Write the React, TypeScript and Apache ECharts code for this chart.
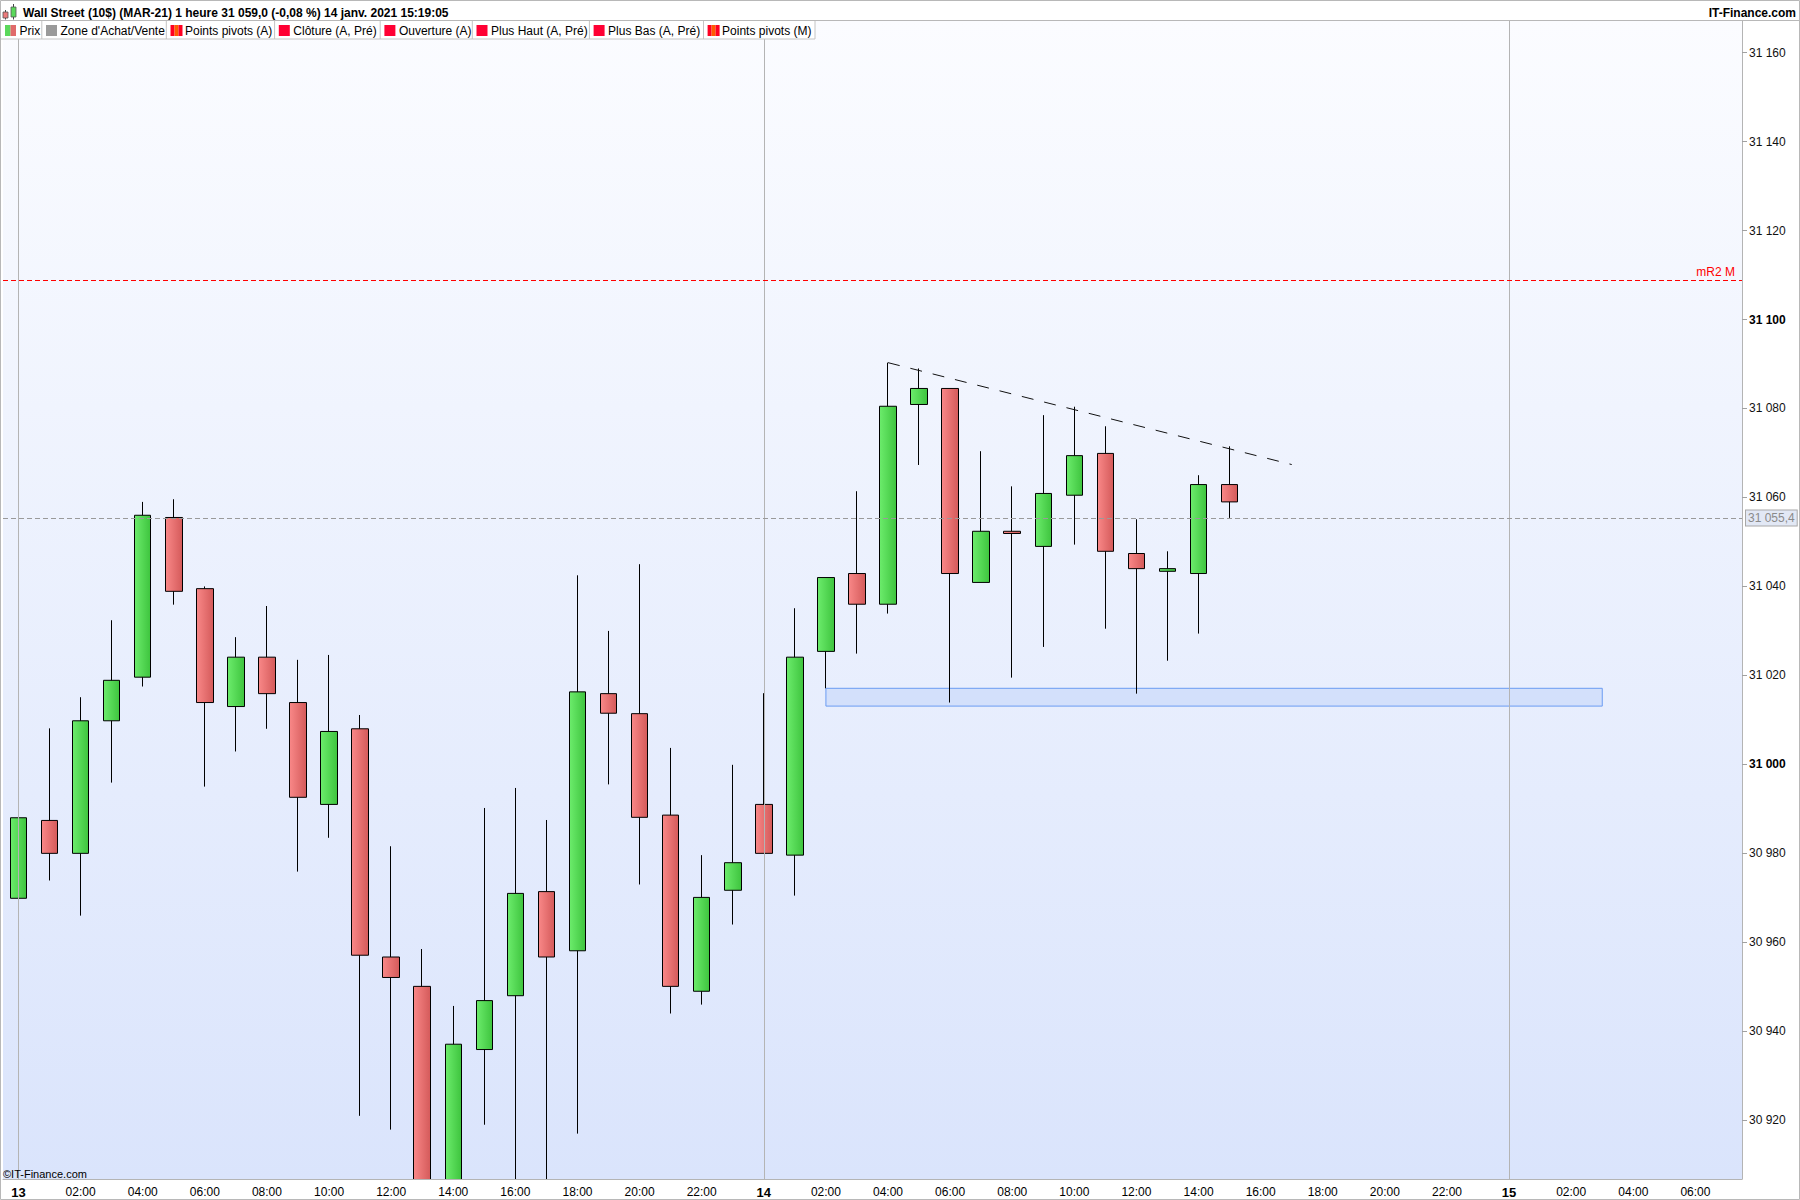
import React, { useEffect, useRef } from "react";
import * as echarts from "echarts";

// ---------- DATA ----------
const hourLabels = [
  "13", "01:00", "02:00", "03:00", "04:00", "05:00", "06:00", "07:00", "08:00", "09:00", "10:00", "11:00",
  "12:00", "13:00", "14:00", "15:00", "16:00", "17:00", "18:00", "19:00", "20:00", "21:00", "22:00", "23:00",
  "14", "01:00", "02:00", "03:00", "04:00", "05:00", "06:00", "07:00", "08:00", "09:00", "10:00", "11:00",
  "12:00", "13:00", "14:00", "15:00", "16:00", "17:00", "18:00", "19:00", "20:00", "21:00", "22:00", "23:00",
  "15", "01:00", "02:00", "03:00", "04:00", "05:00", "06:00", "07:00",
];

const opens = [
  30969.9, 30987.4, 30980.0, 31009.8, 31019.6, 31055.5, 31039.5, 31013.0, 31024.1, 31013.9,
  30991.0, 31008.0, 30956.7, 30950.1, 30898.0, 30935.9, 30948.0, 30971.4, 30958.1, 31015.9,
  31011.4, 30988.6, 30949.0, 30971.7, 30991.0, 30979.6, 31025.4, 31042.9, 31036.0, 31080.9,
  31084.5, 31040.9, 31052.4, 31049.0, 31060.5, 31069.9, 31047.4, 31043.4, 31042.9, 31062.9,
];
const closes = [
  30988.0, 30980.0, 31009.8, 31018.9, 31056.0, 31038.9, 31013.9, 31024.1, 31015.9, 30992.6,
  31007.4, 30957.1, 30952.1, 30895.0, 30937.1, 30946.9, 30971.0, 30956.7, 31016.3, 31011.5,
  30988.1, 30950.1, 30970.1, 30977.9, 30980.0, 31024.1, 31042.0, 31036.0, 31080.5, 31084.5,
  31042.9, 31052.4, 31051.9, 31060.9, 31069.4, 31047.9, 31044.0, 31044.0, 31062.9, 31059.0,
];
const lows = [
  30946.5, 30973.9, 30966.0, 30995.9, 31017.5, 31035.9, 30995.0, 31002.9, 31008.0, 30975.9,
  30983.5, 30921.0, 30917.9, 30888.0, 30890.0, 30919.0, 30903.0, 30905.0, 30917.0, 30995.5,
  30973.0, 30944.0, 30946.0, 30964.0, 30980.0, 30970.5, 31017.1, 31024.9, 31033.9, 31067.3,
  31013.9, 31040.9, 31019.5, 31026.4, 31049.4, 31030.5, 31015.9, 31023.3, 31029.4, 31055.4,
];
const highs = [
  30988.0, 31008.1, 31015.1, 31032.4, 31059.0, 31059.6, 31040.0, 31028.6, 31035.6, 31023.5,
  31024.6, 31011.1, 30981.6, 30958.5, 30945.7, 30990.2, 30994.7, 30987.5, 31042.5, 31030.0,
  31045.0, 31003.7, 30979.6, 30999.9, 31016.0, 31035.1, 31042.0, 31061.4, 31090.3, 31089.0,
  31084.5, 31070.4, 31062.5, 31078.5, 31080.4, 31076.0, 31055.1, 31047.9, 31065.0, 31071.5,
];

const yTicks = [30920, 30940, 30960, 30980, 31000, 31020, 31040, 31060, 31080, 31100, 31120, 31140, 31160];
const yMin = 30906.8;
const yMax = 31167.1;

const dayBoundaries = [0, 24, 48];
const lastPrice = 31055.4;
const lastPriceLabel = "31 055,4";
const pivotLevel = 31108.8;
const pivotLabel = "mR2 M";
const trendStart = [28, 31090.3];
const trendEnd = [41, 31067.4];
const zoneX = [26, 51];
const zoneY = [31017.1, 31013.1];

const titleText = "Wall Street (10$) (MAR-21) 1 heure 31 059,0 (-0,08 %) 14 janv. 2021 15:19:05";
const brandText = "IT-Finance.com";
const watermarkText = "\u00A9IT-Finance.com";
const legendNames = [
  "Prix", "Zone d'Achat/Vente", "Points pivots (A)", "Clôture (A, Pré)",
  "Ouverture (A)", "Plus Haut (A, Pré)", "Plus Bas (A, Pré)", "Points pivots (M)",
];
const legendIcons = ["prix", "zone", "pivot", "red", "red", "red", "red", "pivot"];

// ---------- LAYOUT (styling only) ----------
const legendIconX = [5, 46, 170.5, 278.8, 384.4, 476.5, 593.6, 707.6];
const legendSepX = [41.8, 166.3, 274.6, 380.2, 472.3, 589.4, 703.5];
const legendEndX = 814.5;
const FONT = '"Liberation Sans", Arial, sans-serif';

function fmtPrice(v: number) {
  const th = Math.floor(v / 1000);
  const rest = Math.round(v - th * 1000);
  return `${th} ${String(rest).padStart(3, "0")}`;
}

function legendIcon(kind: string, x: number): any[] {
  const y = 25;
  if (kind === "prix") {
    return [
      { type: "rect", z: 101, shape: { x, y, width: 5.5, height: 11 }, style: { fill: "#5bd85b" } },
      { type: "rect", z: 101, shape: { x: x + 5.5, y, width: 5.5, height: 11 }, style: { fill: "#e06a6a" } },
    ];
  }
  if (kind === "zone") {
    return [{ type: "rect", z: 101, shape: { x, y, width: 11, height: 11 }, style: { fill: "#9a9a9a" } }];
  }
  if (kind === "pivot") {
    return [
      { type: "rect", z: 101, shape: { x, y, width: 4, height: 11 }, style: { fill: "#ff0022" } },
      { type: "rect", z: 101, shape: { x: x + 4, y, width: 4, height: 11 }, style: { fill: "#ff5a00" } },
      { type: "rect", z: 101, shape: { x: x + 8, y, width: 4, height: 11 }, style: { fill: "#ff0022" } },
    ];
  }
  return [{ type: "rect", z: 101, shape: { x, y, width: 11, height: 11 }, style: { fill: "#ff0033" } }];
}

export default function App() {
  const ref = useRef<HTMLDivElement>(null);

  useEffect(() => {
    const chart = echarts.init(ref.current!, null, { renderer: "svg" });

    const greenGrad = new echarts.graphic.LinearGradient(0, 0, 1, 0, [
      { offset: 0, color: "#6cec6c" },
      { offset: 1, color: "#3ec43e" },
    ]);
    const redGrad = new echarts.graphic.LinearGradient(0, 0, 1, 0, [
      { offset: 0, color: "#f98888" },
      { offset: 1, color: "#d45a5a" },
    ]);
    const bgGrad = new echarts.graphic.LinearGradient(0, 0, 0, 1, [
      { offset: 0, color: "#fbfcff" },
      { offset: 1, color: "#dae4fc" },
    ]);

    const candleData = opens.map((o, i) => [o, closes[i], lows[i], highs[i]]);

    const graphics: any[] = [
      { type: "rect", z: 100, silent: true, shape: { x: 0, y: 0, width: 1800, height: 20.5 }, style: { fill: "#ffffff" } },
      { type: "line", z: 102, silent: true, shape: { x1: 0, y1: 20.5, x2: 1800, y2: 20.5 }, style: { stroke: "#b8b8b8", lineWidth: 1 } },
      // cover below the plot so candles that run past the bottom are cut off
      { type: "rect", z: 100, silent: true, shape: { x: 0, y: 1179.5, width: 1800, height: 21 }, style: { fill: "#ffffff" } },
      // title icon
      { type: "line", z: 101, shape: { x1: 5.5, y1: 10, x2: 5.5, y2: 19.5 }, style: { stroke: "#444", lineWidth: 1 } },
      { type: "rect", z: 102, shape: { x: 3, y: 12, width: 5, height: 6 }, style: { fill: "#ec7a7a", stroke: "#555", lineWidth: 0.8 } },
      { type: "line", z: 101, shape: { x1: 13.5, y1: 4, x2: 13.5, y2: 19.5 }, style: { stroke: "#444", lineWidth: 1 } },
      { type: "rect", z: 102, shape: { x: 11, y: 7, width: 5, height: 10 }, style: { fill: "#5ad85a", stroke: "#555", lineWidth: 0.8 } },
      {
        type: "text", z: 102, x: 23, y: 13,
        style: { text: titleText, fill: "#000", fontSize: 12, fontWeight: "bold", fontFamily: FONT, verticalAlign: "middle" },
      },
      {
        type: "text", z: 102, x: 1796, y: 13,
        style: { text: brandText, fill: "#000", fontSize: 12, fontWeight: "bold", fontFamily: FONT, align: "right", verticalAlign: "middle" },
      },
      // legend row
      {
        type: "rect", z: 100, silent: true,
        shape: { x: 0.5, y: 20.5, width: legendEndX, height: 18.5 },
        style: { fill: "#ffffff", stroke: "#c4c4c4", lineWidth: 1 },
      },
      {
        type: "text", z: 102, x: 3, y: 1174,
        style: { text: watermarkText, fill: "#000", fontSize: 11, fontFamily: FONT, verticalAlign: "middle" },
      },
      {
        type: "rect", z: 103, silent: true,
        shape: { x: 0.5, y: 0.5, width: 1799, height: 1199 },
        style: { fill: "none", stroke: "#b8b8b8", lineWidth: 1 },
      },
    ];
    legendSepX.forEach((sx) => {
      graphics.push({
        type: "line", z: 101, shape: { x1: sx, y1: 21, x2: sx, y2: 39 }, style: { stroke: "#c4c4c4", lineWidth: 1 },
      });
    });
    legendNames.forEach((name, i) => {
      graphics.push(...legendIcon(legendIcons[i], legendIconX[i]));
      graphics.push({
        type: "text", z: 102, x: legendIconX[i] + 14.5, y: 31,
        style: { text: name, fill: "#000", fontSize: 12, fontFamily: FONT, verticalAlign: "middle" },
      });
    });

    const option: any = {
      animation: false,
      backgroundColor: "#ffffff",
      textStyle: { fontFamily: FONT },
      grid: {
        left: 3,
        top: 21,
        width: 1739,
        height: 1158,
        show: true,
        borderWidth: 0,
        backgroundColor: bgGrad,
      },
      xAxis: {
        type: "category",
        z: 120,
        data: hourLabels,
        boundaryGap: true,
        axisLine: { show: true, lineStyle: { color: "#b4b4b4", width: 1 } },
        axisTick: { show: false },
        splitLine: { show: false },
        axisLabel: {
          interval: 1,
          margin: 7,
          color: "#000",
          formatter: (v: string) => (v.indexOf(":") >= 0 ? `{n|${v}}` : `{d|${v}}`),
          rich: {
            n: { fontSize: 12, color: "#000", fontFamily: FONT },
            d: { fontSize: 13, fontWeight: "bold", color: "#000", fontFamily: FONT },
          },
        },
      },
      yAxis: {
        type: "value",
        z: 120,
        position: "right",
        min: yMin,
        max: yMax,
        scale: true,
        axisLine: { show: true, lineStyle: { color: "#b4b4b4", width: 1 } },
        axisTick: { show: true, length: 5, lineStyle: { color: "#a0a0a0" }, customValues: yTicks },
        splitLine: { show: false },
        axisLabel: {
          customValues: yTicks,
          margin: 7,
          color: "#000",
          formatter: (v: number) => (Math.round(v) % 100 === 0 ? `{b|${fmtPrice(v)}}` : `{r|${fmtPrice(v)}}`),
          rich: {
            r: { fontSize: 12, color: "#111", fontFamily: FONT },
            b: { fontSize: 12, fontWeight: "bold", color: "#000", fontFamily: FONT },
          },
        },
      },
      series: [
        {
          type: "line",
          name: "background",
          data: [],
          z: 1,
          silent: true,
          markLine: {
            silent: true,
            symbol: ["none", "none"],
            label: { show: false },
            lineStyle: { color: "#b4b4b4", width: 1, type: "solid" },
            data: dayBoundaries.map((d) => ({ xAxis: d })),
          },
          markArea: {
            silent: true,
            itemStyle: { color: "#d3e0fb", borderColor: "#6b9cf2", borderWidth: 1 },
            data: [[{ coord: [zoneX[0], zoneY[0]] }, { coord: [zoneX[1], zoneY[1]] }]],
          },
        },
        {
          type: "candlestick",
          name: "Prix",
          z: 3,
          clip: true,
          barWidth: 17,
          data: candleData,
          itemStyle: {
            color: greenGrad,
            color0: redGrad,
            borderColor: "#000",
            borderColor0: "#000",
            borderWidth: 1,
          },
          emphasis: { disabled: true },
        },
        {
          type: "line",
          name: "overlay",
          data: [],
          z: 5,
          silent: true,
          markLine: {
            silent: true,
            symbol: ["none", "none"],
            data: [
              {
                yAxis: lastPrice,
                lineStyle: { color: "#9a9a9a", width: 1, type: [5, 3] },
                label: {
                  show: true,
                  position: "end",
                  distance: 4,
                  formatter: lastPriceLabel,
                  color: "#8a8a8a",
                  fontSize: 12,
                  fontFamily: FONT,
                  backgroundColor: "#e2e8f5",
                  borderColor: "#a8a8a8",
                  borderWidth: 1,
                  padding: [2, 2, 1, 2],
                },
              },
              {
                yAxis: pivotLevel,
                lineStyle: { color: "#ff0000", width: 1, type: [5, 3] },
                label: {
                  show: true,
                  position: "insideEndTop",
                  distance: [7, 2],
                  formatter: pivotLabel,
                  color: "#ff0000",
                  fontSize: 12,
                  fontFamily: FONT,
                },
              },
              [
                {
                  coord: trendStart,
                  lineStyle: { color: "#111", width: 1, type: [12, 11] },
                  label: { show: false },
                },
                { coord: trendEnd },
              ],
            ],
          },
        },
      ],
      graphic: graphics,
    };

    chart.setOption(option);
    return () => chart.dispose();
  }, []);

  return (
    <div
      ref={ref}
      style={{ position: "absolute", left: 0, top: 0, width: 1800, height: 1200 }}
    />
  );
}
